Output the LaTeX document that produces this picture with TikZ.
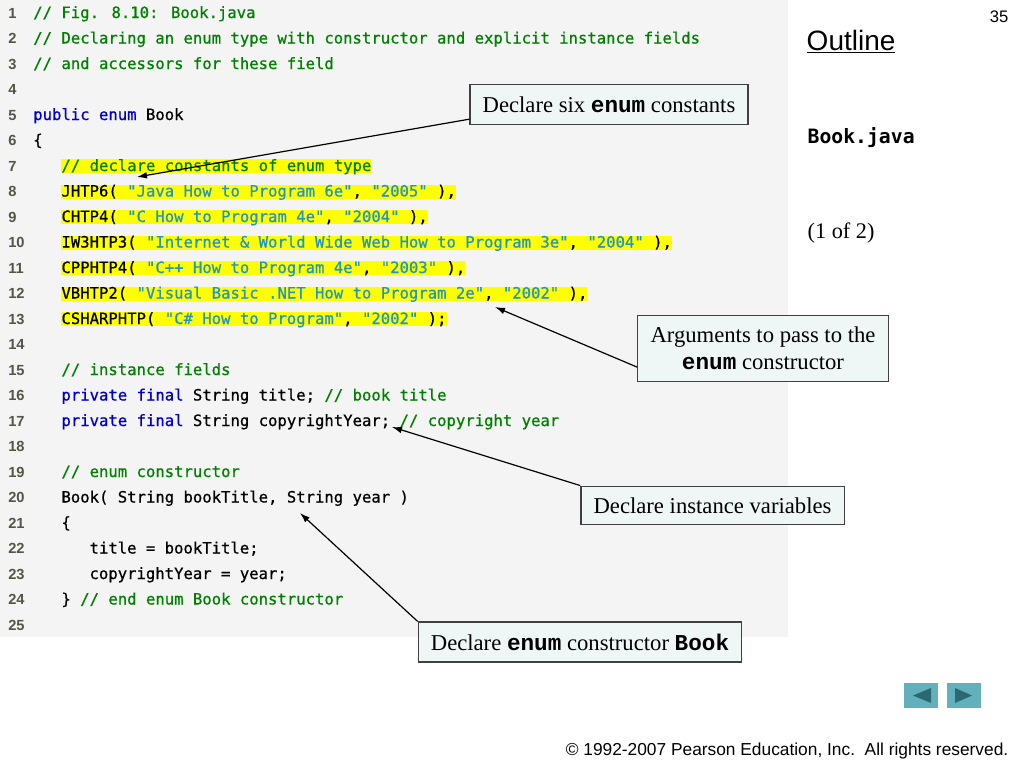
\documentclass[tikz,border=0pt]{standalone}
\usepackage{fontspec}
\setmainfont{Liberation Serif}
\setsansfont{Liberation Sans}
\setmonofont{DejaVu Sans Mono}
\newfontfamily\codefont{DejaVu Sans Mono}[FakeBold=0.7]
\newfontfamily\courfont{Liberation Mono}
\usetikzlibrary{arrows.meta}

\definecolor{bggray}{RGB}{244,244,244}
\definecolor{cmtgreen}{RGB}{0,128,0}
\definecolor{kwblue}{RGB}{0,0,205}
\definecolor{strteal}{RGB}{30,150,200}
\definecolor{numgray}{RGB}{85,85,70}
\definecolor{hiyellow}{RGB}{255,255,0}
\definecolor{boxfill}{RGB}{238,246,246}
\definecolor{navteal}{RGB}{98,176,188}
\definecolor{navdark}{RGB}{44,104,114}

\newcommand{\cmt}[1]{\textcolor{cmtgreen}{#1}}
\newcommand{\kw}[1]{\textcolor{kwblue}{#1}}
\newcommand{\jstr}[1]{\textcolor{strteal}{#1}}
\newcommand{\bcode}[1]{{\courfont\bfseries #1}}

\tikzset{
  lnum/.style={anchor=base west,inner sep=0pt,text=numgray,
    font=\sffamily\bfseries\fontsize{11}{12}\selectfont},
  code/.style={anchor=base west,inner sep=0pt,
    font=\codefont\fontsize{11.7}{14}\selectfont},
  hicode/.style={code,fill=hiyellow,text height=8.8pt,text depth=1.8pt},
  callout/.style={draw=black!75,line width=0.9pt,fill=boxfill,align=center,
    inner xsep=9.5pt,minimum height=30pt,font=\fontsize{17}{20}\selectfont},
  pointer/.style={line width=0.9pt,-{Latex[length=7.5pt,width=5pt]}}
}

\begin{document}
\begin{tikzpicture}[x=0.75pt,y=-0.75pt]
    \useasboundingbox (0,0) rectangle (1024,768);
    \fill [bggray] (0,0) rectangle (788,637);
    % line numbers
    \foreach \n in {1,...,25}
        \node [lnum] (n\n) at (8,{18+(\n-1)*25.5}) {\n};
    % code
    \node [code] (c1) at (33,18) {\cmt{// Fig. 8.10: Book.java}};
    \node [code] (c2) at (33,43.5) {\cmt{// Declaring an enum type with constructor and explicit instance fields}};
    \node [code] (c3) at (33,69) {\cmt{// and accessors for these field}};
    \node [code] (c5) at (33,120) {\kw{public enum} Book};
    \node [code] (c6) at (33,145.5) {\{};
    \node [hicode] (c7) at (61.2,171) {\cmt{// declare constants of enum type}};
    \node [hicode] (c8) at (61.2,196.5) {JHTP6( \jstr{"Java How to Program 6e"}, \jstr{"2005"} ),};
    \node [hicode] (c9) at (61.2,222) {CHTP4( \jstr{"C How to Program 4e"}, \jstr{"2004"} ),};
    \node [hicode] (c10) at (61.2,247.5) {IW3HTP3( \jstr{"Internet \& World Wide Web How to Program 3e"}, \jstr{"2004"} ),};
    \node [hicode] (c11) at (61.2,273) {CPPHTP4( \jstr{"C++ How to Program 4e"}, \jstr{"2003"} ),};
    \node [hicode] (c12) at (61.2,298.5) {VBHTP2( \jstr{"Visual Basic .NET How to Program 2e"}, \jstr{"2002"} ),};
    \node [hicode] (c13) at (61.2,324) {CSHARPHTP( \jstr{"C\# How to Program"}, \jstr{"2002"} );};
    \node [code] (c15) at (61.2,375) {\cmt{// instance fields}};
    \node [code] (c16) at (61.2,400.5) {\kw{private final} String title; \cmt{// book title}};
    \node [code] (c17) at (61.2,426) {\kw{private final} String copyrightYear; \cmt{// copyright year}};
    \node [code] (c19) at (61.2,477) {\cmt{// enum constructor}};
    \node [code] (c20) at (61.2,502.5) {Book( String bookTitle, String year )};
    \node [code] (c21) at (61.2,528) {\{};
    \node [code] (c22) at (89.3,553.5) {title = bookTitle;};
    \node [code] (c23) at (89.3,579) {copyrightYear = year;};
    \node [code] (c24) at (61.2,604.5) {\} \cmt{// end enum Book constructor}};
    % callouts
    \node [callout] (b1) at (609,104.5) {Declare six \bcode{enum} constants};
    \node [callout,minimum height=49.5pt] (b2) at (763,348.5) {Arguments to pass to the\\\bcode{enum} constructor};
    \node [callout,minimum height=29pt] (b3) at (712.5,505.5) {Declare instance variables};
    \node [callout] (b4) at (580,642) {Declare \bcode{enum} constructor \bcode{Book}};
    \coordinate (t1) at (137,177);
    \coordinate (t2) at (495,307);
    \coordinate (t3) at (392,427);
    \coordinate (t4) at (300,513);
    \draw [pointer] ([yshift=-11pt]b1.west) -- (t1);
    \draw [pointer] ([yshift=-14pt]b2.west) -- (t2);
    \draw [pointer] (b3.north west) -- (t3);
    \draw [pointer] (b4.north west) -- (t4);
    % side panel
    \node [anchor=base east,font=\sffamily\fontsize{12.5}{14}\selectfont] (pg) at (1013,22) {35};
    \node [anchor=base west,font=\sffamily\fontsize{21}{24}\selectfont] (outl) at (802,50) {\underline{Outline}};
    \node [anchor=base west,font=\ttfamily\bfseries\fontsize{14.8}{16}\selectfont] (fname) at (803,143) {Book.java};
    \node [anchor=base west,font=\fontsize{16.7}{18}\selectfont] (part) at (803,238) {(1 of 2)};
    % navigation
    \fill [navteal] (904,683) rectangle (938,708);
    \fill [navdark] (913,695.5) -- (931,688) -- (931,703) -- cycle;
    \fill [navteal] (947,683) rectangle (981,708);
    \fill [navdark] (972,695.5) -- (955,688) -- (955,703) -- cycle;
    \node [anchor=base east,font=\sffamily\fontsize{13}{15}\selectfont] (copy) at (1013,755) {\textcopyright{} 1992-2007 Pearson Education, Inc.\ \ All rights reserved.};
\end{tikzpicture}
\end{document}
